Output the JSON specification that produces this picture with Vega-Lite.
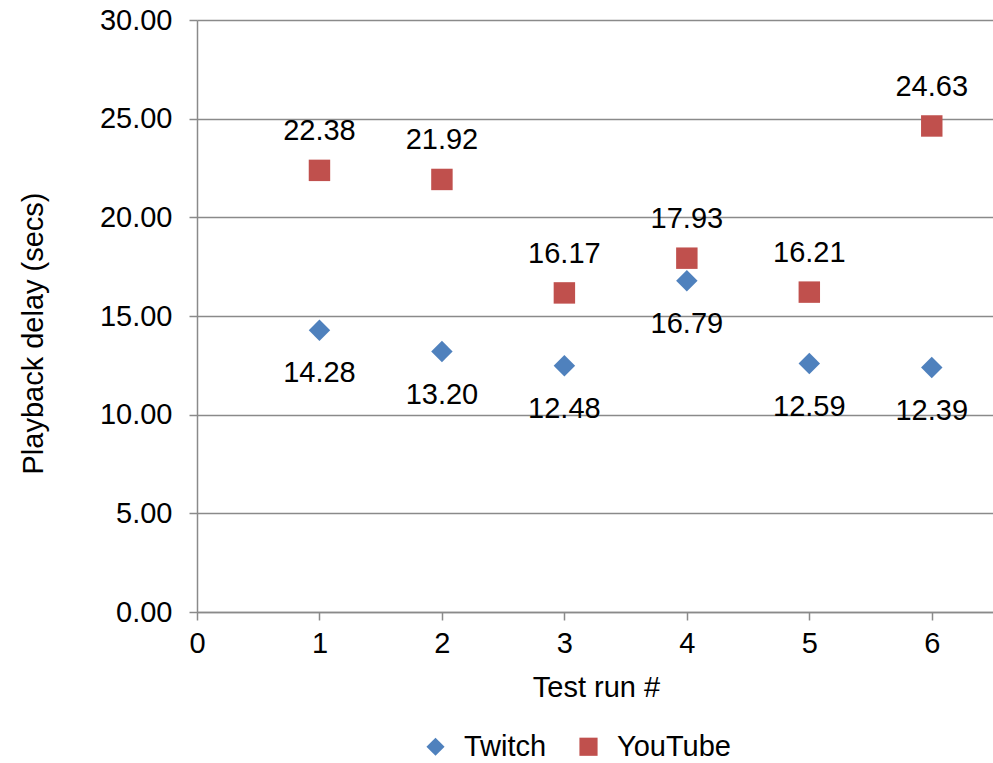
{
  "$schema": "https://vega.github.io/schema/vega-lite/v6.json",
  "width": 796,
  "height": 592,
  "autosize": {"type": "none"},
  "padding": {"left": 197, "top": 20, "right": 0, "bottom": 151},
  "background": "white",
  "config": {
    "font": "Liberation Sans",
    "view": {"stroke": null},
    "axis": {
      "labelFont": "Liberation Sans",
      "titleFont": "Liberation Sans",
      "labelFontSize": 29,
      "titleFontSize": 29,
      "labelColor": "black",
      "titleColor": "black",
      "titleFontWeight": "normal",
      "labelFlush": false,
      "domainColor": "#8a8a8a",
      "domainWidth": 1.5,
      "tickColor": "#8a8a8a",
      "tickWidth": 1.5,
      "tickSize": 8,
      "gridColor": "#8a8a8a",
      "gridWidth": 1.5
    }
  },
  "data": {
    "values": [
      {"run": 1, "service": "Twitch", "delay": 14.28},
      {"run": 2, "service": "Twitch", "delay": 13.20},
      {"run": 3, "service": "Twitch", "delay": 12.48},
      {"run": 4, "service": "Twitch", "delay": 16.79},
      {"run": 5, "service": "Twitch", "delay": 12.59},
      {"run": 6, "service": "Twitch", "delay": 12.39},
      {"run": 1, "service": "YouTube", "delay": 22.38},
      {"run": 2, "service": "YouTube", "delay": 21.92},
      {"run": 3, "service": "YouTube", "delay": 16.17},
      {"run": 4, "service": "YouTube", "delay": 17.93},
      {"run": 5, "service": "YouTube", "delay": 16.21},
      {"run": 6, "service": "YouTube", "delay": 24.63}
    ]
  },
  "encoding": {
    "x": {
      "field": "run",
      "type": "quantitative",
      "scale": {"domain": [0, 6.5], "nice": false, "zero": false},
      "axis": {
        "title": "Test run #",
        "values": [0, 1, 2, 3, 4, 5, 6],
        "format": "d",
        "grid": false,
        "labelFlush": false,
        "labelPadding": 9,
        "titlePadding": 15,
        "titleX": 399
      }
    },
    "y": {
      "field": "delay",
      "type": "quantitative",
      "scale": {"domain": [0, 30], "nice": false},
      "axis": {
        "title": "Playback delay (secs)",
        "values": [0, 5, 10, 15, 20, 25, 30],
        "format": ".2f",
        "grid": true,
        "labelFlush": false,
        "labelPadding": 17,
        "titleX": -164,
        "titleY": 313,
        "titleBaseline": "middle",
        "titleAlign": "center"
      }
    }
  },
  "layer": [
    {
      "mark": {"type": "point", "filled": true, "opacity": 1, "size": 460},
      "encoding": {
        "shape": {
          "field": "service",
          "type": "nominal",
          "scale": {"domain": ["Twitch", "YouTube"], "range": ["diamond", "square"]},
          "legend": {
            "title": null,
            "orient": "none",
            "direction": "horizontal",
            "legendX": 224,
            "legendY": 712,
            "labelFont": "Liberation Sans",
            "labelFontSize": 29,
            "labelColor": "black",
            "symbolSize": 330,
            "labelOffset": 14,
            "columnPadding": 27
          }
        },
        "color": {
          "field": "service",
          "type": "nominal",
          "scale": {"domain": ["Twitch", "YouTube"], "range": ["#4F81BD", "#C0504D"]},
          "legend": {
            "title": null,
            "orient": "none",
            "direction": "horizontal",
            "legendX": 224,
            "legendY": 712,
            "labelFont": "Liberation Sans",
            "labelFontSize": 29,
            "labelColor": "black",
            "symbolSize": 330,
            "labelOffset": 14,
            "columnPadding": 27
          }
        }
      }
    },
    {
      "transform": [{"filter": "datum.service === 'YouTube'"}],
      "mark": {"type": "text", "dy": -39, "fontSize": 29, "font": "Liberation Sans", "color": "black"},
      "encoding": {"text": {"field": "delay", "type": "quantitative", "format": ".2f"}}
    },
    {
      "transform": [{"filter": "datum.service === 'Twitch'"}],
      "mark": {"type": "text", "dy": 43, "fontSize": 29, "font": "Liberation Sans", "color": "black"},
      "encoding": {"text": {"field": "delay", "type": "quantitative", "format": ".2f"}}
    }
  ]
}
